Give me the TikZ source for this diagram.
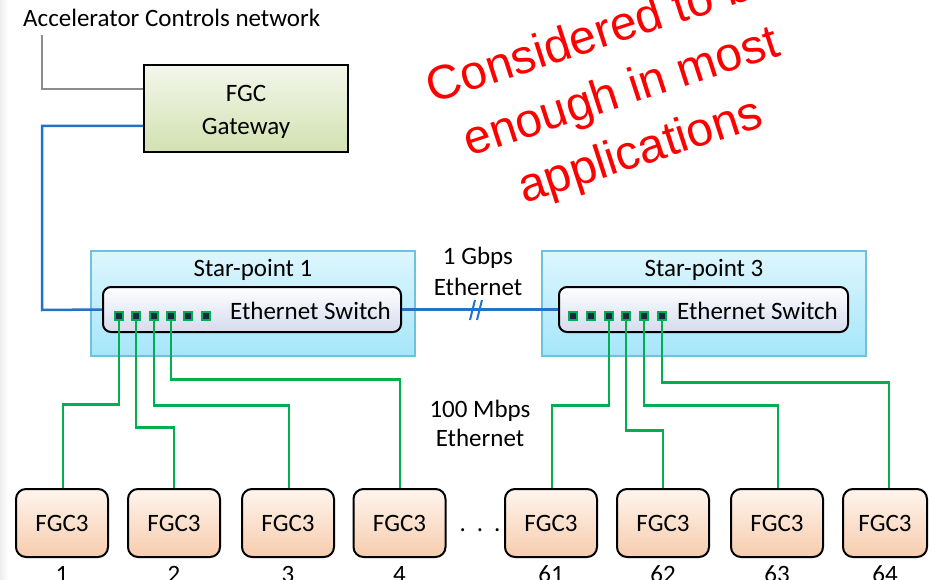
\documentclass[tikz,border=0pt]{standalone}
\usepackage{fontspec}
\setmainfont{Carlito}
\newfontfamily\arialfont{Liberation Sans}
\definecolor{gwtop}{HTML}{F4F7EC}
\definecolor{gwbot}{HTML}{D2E1B0}
\definecolor{sptop}{HTML}{DDF6FD}
\definecolor{spbot}{HTML}{A6E6FA}
\definecolor{spdraw}{HTML}{6EC3DC}
\definecolor{swtop}{HTML}{FFFFFF}
\definecolor{swbot}{HTML}{D5DBEF}
\definecolor{fgtop}{HTML}{FEF5EE}
\definecolor{fgbot}{HTML}{F7CCAD}
\definecolor{wgreen}{HTML}{00B050}
\definecolor{wblue}{HTML}{2272C8}
\definecolor{wgray}{HTML}{8C8C8C}
\definecolor{portfill}{HTML}{1A2744}
\begin{document}
\begin{tikzpicture}[x=1pt,y=-1pt,
  font=\fontsize{25}{30}\selectfont,
  gwbox/.style={draw=black, line width=2.2pt, top color=gwtop, bottom color=gwbot,
    minimum width=204pt, minimum height=87pt, inner sep=0pt},
  spbox/.style={draw=spdraw, line width=1.5pt, top color=sptop, bottom color=spbot,
    minimum width=324pt, minimum height=105pt, inner sep=0pt},
  swbox/.style={draw=black, line width=2pt, top color=swtop, bottom color=swbot,
    rounded corners=8pt, minimum height=45pt, inner sep=0pt},
  port/.style={draw=wgreen, line width=1.6pt, fill=portfill, minimum size=8pt, inner sep=0pt},
  fgcbox/.style={draw=black, line width=2pt, top color=fgtop, bottom color=fgbot,
    rounded corners=10pt, minimum width=92pt, minimum height=68pt, inner sep=0pt},
  lbl/.style={inner sep=0pt, align=center},
  grayline/.style={draw=wgray, line width=2pt},
  blueline/.style={draw=wblue, line width=2.5pt},
  greenline/.style={draw=wgreen, line width=2.5pt},
]
\useasboundingbox (0,0) rectangle (929,580);
\clip (0,0) rectangle (929,580);
\shade[left color=black!7, right color=white] (0,0) rectangle (8,580);

% top
\node[lbl, anchor=base west] (acn) at (23,27) {Accelerator Controls network};
\node[gwbox] (gw) at (246,108.5) {};
\node[lbl, font=\fontsize{25}{33}\selectfont] (gwt) at (246,111.5) {FGC\\Gateway};
\coordinate (g0) at (42,35);
\draw[grayline] (g0) |- ([yshift=-25pt]gw.north west);

% star points
\node[spbox] (sp1) at (253,303.5) {};
\node[spbox] (sp3) at (704,303.5) {};
\node[lbl] (sp1t) at (253,270) {Star-point 1};
\node[lbl] (sp3t) at (704,270) {Star-point 3};
\node[swbox, minimum width=298pt] (sw1) at (252,309.5) {};
\node[swbox, minimum width=289pt] (sw3) at (703.5,309.5) {};
\node[lbl, anchor=east] (sw1t) at ([xshift=-11pt,yshift=-1pt]sw1.east) {Ethernet Switch};
\node[lbl, anchor=east] (sw3t) at ([xshift=-11pt,yshift=-1pt]sw3.east) {Ethernet Switch};

% blue links
\coordinate (b1) at (42,310);
\draw[blueline] ([yshift=-62pt]gw.north west) -| (b1) -- (sw1.west);
\draw[blueline] (sw1.east) -- (sw3.west);
\draw[draw=wblue, line width=2pt] (470,320) -- (475,300) (477,320) -- (482,300);
\node[lbl, font=\fontsize{25}{31}\selectfont] (gb) at (478,271) {1 Gbps\\Ethernet};
\node[lbl, font=\fontsize{25}{29}\selectfont] (mb) at (480,423) {100 Mbps\\Ethernet};

% ports
\foreach \i/\x in {1/119,2/136,3/154,4/171,5/188,6/206}
  \node[port] (pa\i) at (\x,316) {};
\foreach \i/\x in {1/573,2/591,3/609,4/626,5/644,6/662}
  \node[port] (pb\i) at (\x,316) {};

% FGC3 boxes
\foreach \n/\x in {1/62,2/174,3/288,4/399.5,61/551,62/663,63/777}
  \node[fgcbox] (f\n) at (\x,523) {FGC3};
\node[fgcbox, minimum width=84pt] (f64) at (885,523) {FGC3};
\foreach \n in {1,2,3,4,61,62,63,64}
  \node[lbl, anchor=base] (n\n) at ([yshift=-24pt]f\n.south) {\n};
\node[lbl] (dots) at (480,530) {.\hspace{11pt}.\hspace{11pt}.};

% green wires
\draw[greenline] (pa1.south) -- ++(0,83.5) -| ([xshift=1pt]f1.north);
\draw[greenline] (pa2.south) -- ++(0,106.5) -| (f2.north);
\draw[greenline] (pa3.south) -- ++(0,84.5) -| ([xshift=1pt]f3.north);
\draw[greenline] (pa4.south) -- ++(0,58.5) -| ([xshift=0.5pt]f4.north);
\draw[greenline] (pb3.south) -- ++(0,84.5) -| ([xshift=1pt]f61.north);
\draw[greenline] (pb4.south) -- ++(0,109.5) -| (f62.north);
\draw[greenline] (pb5.south) -- ++(0,84.5) -| ([xshift=1pt]f63.north);
\draw[greenline] (pb6.south) -- ++(0,61.5) -| ([xshift=4pt]f64.north);

% red note
\node[lbl, rotate=18, text=red, font=\arialfont\fontsize{48}{62}\selectfont] (note) at (622,94)
  {Considered to be\\enough in most\\applications};
\end{tikzpicture}
\end{document}
